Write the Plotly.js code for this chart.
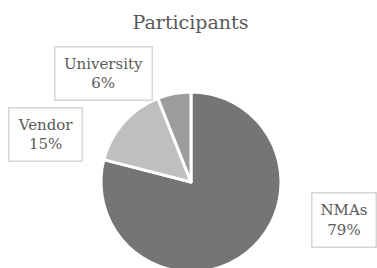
<!DOCTYPE html>
<html>
<head>
<meta charset="utf-8">
<script src="https://cdn.plot.ly/plotly-3.0.1.min.js"></script>
<style>html,body{margin:0;padding:0;overflow:hidden;background:#fff;}</style>
</head>
<body>
<div id="chart"></div>
<script>
var categories = ["NMAs", "Vendor", "University"];
var values = [79, 15, 6];
var colors = ["#757575", "#bfbfbf", "#9c9c9c"];
var chartTitle = "Participants";

var W = 377, H = 280;
var cx = 191, cy = 182, r = 90;
var serif = "DejaVu Serif";

var total = values.reduce(function(a, b){ return a + b; }, 0);
var boxSpots = [
  {x: 344, y: 220, w: 63, h: 53},
  {x: 45.5, y: 134, w: 72, h: 52},
  {x: 103.5, y: 74, w: 96, h: 52}
];
var annotations = categories.map(function(c, i){
  var pct = Math.round(values[i] / total * 100) + "%";
  return {
    text: c + "<br>" + pct,
    xref: "paper", yref: "paper",
    x: boxSpots[i].x / W, y: 1 - boxSpots[i].y / H,
    xanchor: "center", yanchor: "middle",
    showarrow: false,
    width: boxSpots[i].w, height: boxSpots[i].h,
    bordercolor: "#d6d6d6", borderwidth: 1.5, borderpad: 0,
    bgcolor: "#ffffff",
    font: {family: serif, size: 15, color: "#595959"}
  };
});

var data = [{
  type: "pie",
  labels: categories,
  values: values,
  sort: false,
  direction: "clockwise",
  rotation: 0,
  textinfo: "none",
  hoverinfo: "label+percent",
  marker: {colors: colors, line: {color: "#ffffff", width: 3}},
  domain: {x: [(cx - r) / W, (cx + r) / W], y: [(H - cy - r) / H, (H - cy + r) / H]},
  showlegend: false
}];

var layout = {
  width: W, height: H,
  margin: {l: 0, r: 0, t: 0, b: 0},
  paper_bgcolor: "#ffffff",
  showlegend: false,
  title: {
    text: chartTitle,
    x: 190.5 / W, xanchor: "center",
    y: 1 - 22 / H, yanchor: "middle",
    font: {family: serif, size: 19, color: "#595959"}
  },
  annotations: annotations
};

Plotly.newPlot("chart", data, layout, {displayModeBar: false, staticPlot: true});
</script>
</body>
</html>
